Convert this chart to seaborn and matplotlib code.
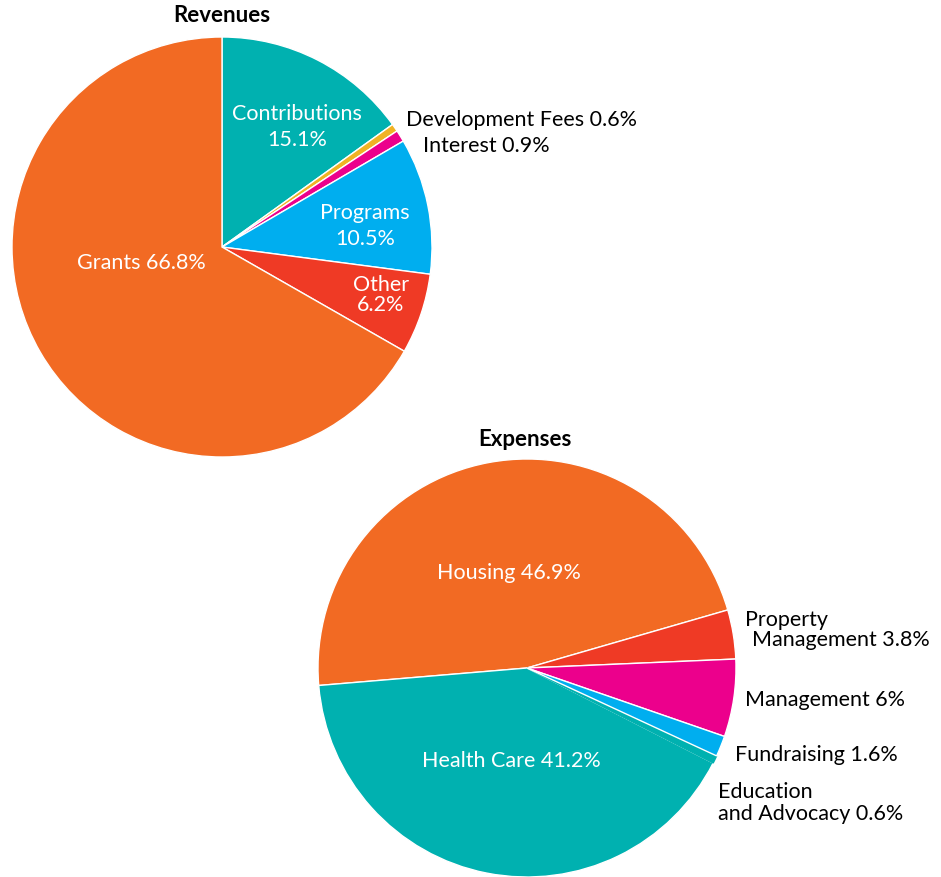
import matplotlib
matplotlib.use("Agg")
import matplotlib.pyplot as plt
import seaborn as sns

sns.set_theme(style="white")
plt.rcParams['font.family'] = ['Lato', 'DejaVu Sans']

# revenues, clockwise from 12 o'clock
rev_labels = ['Contributions', 'Development Fees', 'Interest', 'Programs', 'Other', 'Grants']
rev_values = [15.1, 0.6, 0.9, 10.5, 6.2, 66.8]
rev_colors = ['#00B1B0', '#F0B323', '#EC008C', '#00AEEF', '#EF3A25', '#F26A23']

# expenses, clockwise from the left edge
exp_labels = ['Housing', 'Property Management', 'Management', 'Fundraising',
              'Education and Advocacy', 'Health Care']
exp_values = [46.9, 3.8, 6, 1.6, 0.6, 41.2]
exp_colors = ['#F26A23', '#EF3A25', '#EC008C', '#00AEEF', '#00B1B0', '#00B1B0']

W, H = 941, 878
fig = plt.figure(figsize=(W / 100, H / 100), dpi=100)


def pie_axes(cx, cy, r):
    return fig.add_axes([(cx - r) / W, (H - cy - r) / H, 2 * r / W, 2 * r / H])


def draw(ax, values, colors, start):
    wedges, _ = ax.pie(values, colors=colors, startangle=start, counterclock=False,
                       wedgeprops=dict(edgecolor='white', linewidth=1.0, clip_on=False))
    ax.set_xlim(-1, 1)
    ax.set_ylim(-1, 1)
    ax.set_aspect('equal')
    ax.axis('off')
    return wedges


fs = 15.5


def put(x, y, s, color='white', ha='center', **kw):
    # x, y in pixels of the figure
    fig.text(x / W, 1 - y / H, s, color=color, ha=ha, va='center',
             fontsize=fs, **kw)


ax1 = pie_axes(222, 248, 210)
draw(ax1, rev_values, rev_colors, 90)

fig.text(222 / W, 1 - 16 / H, 'Revenues', ha='center', va='center',
         fontsize=16, fontweight='bold', color='black')
put(297, 127, f'{rev_labels[0]}\n{rev_values[0]}%', linespacing=1.35)
put(406, 120, f'{rev_labels[1]} {rev_values[1]}%', color='black', ha='left')
put(423, 146, f'{rev_labels[2]} {rev_values[2]}%', color='black', ha='left')
put(365, 226, f'{rev_labels[3]}\n{rev_values[3]}%', linespacing=1.35)
put(381, 295, f'{rev_labels[4]}\n{rev_values[4]}%', linespacing=1.05)
put(141, 263, f'{rev_labels[5]} {rev_values[5]}%')

ax2 = pie_axes(527, 669, 209)
w2 = draw(ax2, exp_values, exp_colors, 184.8)
# education slice blends into health care (no white divider between them)
w2[5].set_zorder(1)
w2[4].set_zorder(2)
w2[4].set_edgecolor(exp_colors[4])
w2[3].set_zorder(3)

fig.text(525 / W, 1 - 440 / H, 'Expenses', ha='center', va='center',
         fontsize=16, fontweight='bold', color='black')
put(509, 573, f'{exp_labels[0]} {exp_values[0]}%')
put(745, 620, 'Property', color='black', ha='left')
put(752, 640, f'Management {exp_values[1]}%', color='black', ha='left')
put(745, 700, f'{exp_labels[2]} {exp_values[2]}%', color='black', ha='left')
put(735, 755, f'{exp_labels[3]} {exp_values[3]}%', color='black', ha='left')
put(718, 792, 'Education', color='black', ha='left')
put(718, 814, f'and Advocacy {exp_values[4]}%', color='black', ha='left')
put(511, 761, f'{exp_labels[5]} {exp_values[5]}%')

fig.savefig('out.png', dpi=100, facecolor='white')
